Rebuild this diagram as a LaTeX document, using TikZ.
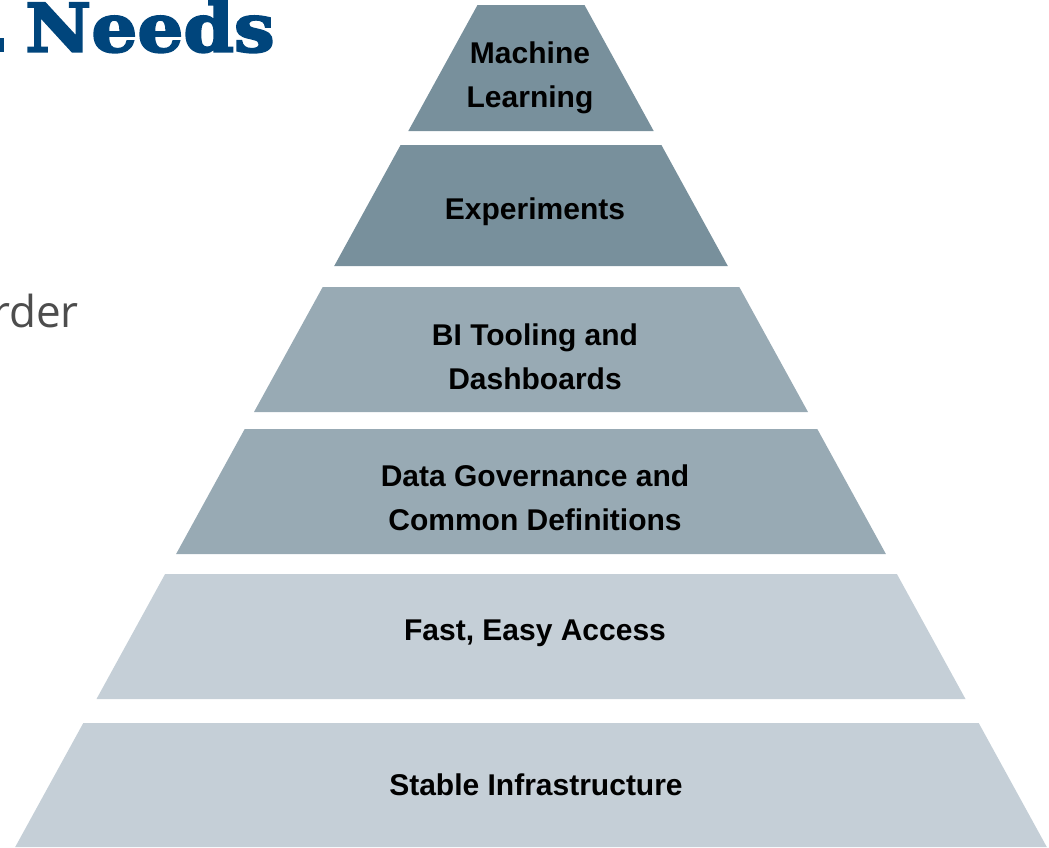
\documentclass[tikz,border=0pt]{standalone}
\usepackage{fontspec}
\setmainfont{Liberation Sans}
\newfontfamily\titlefont[BoldFeatures={FakeBold=3,FakeStretch=1.08}]{DejaVu Serif}
\newfontfamily\bodyfont{Open Sans}
\definecolor{tierdark}{HTML}{78909C}
\definecolor{tiermid}{HTML}{98AAB4}
\definecolor{tierlight}{HTML}{C5CFD7}
\definecolor{titleblue}{HTML}{00457C}
\definecolor{bodygray}{HTML}{4D4D4D}
\begin{document}
\begin{tikzpicture}[x=1pt,y=-1pt,
  tiertext/.style={font=\fontsize{30}{44}\selectfont\bfseries, align=center, text=black, inner sep=0pt}]
\useasboundingbox (0,0) rectangle (1049,847);
% tiers
\fill[tierdark]  (477.5,5)   -- (584.5,5)   -- (653.7,131) -- (408.3,131) -- cycle;
\fill[tierdark]  (400.6,145) -- (661.4,145) -- (727.8,266) -- (334.2,266) -- cycle;
\fill[tiermid]   (322.7,287) -- (739.3,287) -- (808.0,412) -- (254.0,412) -- cycle;
\fill[tiermid]   (244.7,429) -- (817.3,429) -- (885.9,554) -- (176.1,554) -- cycle;
\fill[tierlight] (165.1,574) -- (896.9,574) -- (965.5,699) -- (96.5,699)  -- cycle;
\fill[tierlight] (83.3,723)  -- (978.7,723) -- (1046.8,847) -- (15.2,847) -- cycle;
% labels
\node[tiertext] (ml)   at (530,78)  {Machine\\Learning};
\node[tiertext] (exp)  at (535,212) {Experiments};
\node[tiertext] (bi)   at (535,357) {BI Tooling and\\Dashboards};
\node[tiertext] (gov)  at (535,498) {Data Governance and\\Common Definitions};
\node[tiertext] (fast) at (535,633) {Fast, Easy Access};
\node[tiertext] (infra) at (536,785) {Stable Infrastructure};
% title fragment
\fill[titleblue] (0,38) rectangle (3.5,51.7);
\node[anchor=base west, inner sep=0pt, text=titleblue,
      font=\titlefont\bfseries\fontsize{67}{67}\selectfont] (title) at (25,51.7) {Needs};
\node[anchor=base east, inner sep=0pt, text=bodygray,
      font=\bodyfont\fontsize{44}{50}\selectfont] (sub) at (79,327) {rder};
\end{tikzpicture}
\end{document}
